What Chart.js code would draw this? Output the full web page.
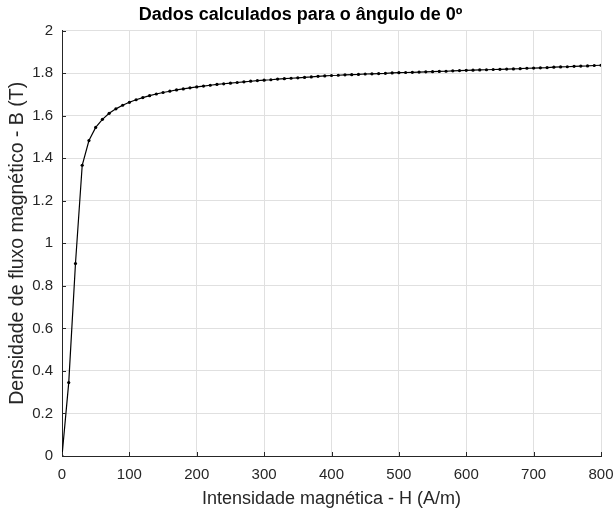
<!DOCTYPE html>
<html>
<head>
<meta charset="utf-8">
<script src="https://cdn.jsdelivr.net/npm/chart.js@4"></script>
<style>
  html, body { margin: 0; padding: 0; background: #ffffff; }
  #wrap { width: 613px; height: 510px; }
</style>
</head>
<body>
<div id="wrap"><canvas id="chart" width="613" height="510"></canvas></div>
<script>
// Campo magnético H (A/m)
const intensityH = [
  0, 10, 20, 30, 40, 50, 60, 70, 80, 90,
  100, 110, 120, 130, 140, 150, 160, 170, 180, 190,
  200, 210, 220, 230, 240, 250, 260, 270, 280, 290,
  300, 310, 320, 330, 340, 350, 360, 370, 380, 390,
  400, 410, 420, 430, 440, 450, 460, 470, 480, 490,
  500, 510, 520, 530, 540, 550, 560, 570, 580, 590,
  600, 610, 620, 630, 640, 650, 660, 670, 680, 690,
  700, 710, 720, 730, 740, 750, 760, 770, 780, 790,
  800
];

// Densidade de fluxo B (T)
const fluxB = [
  0, 0.345, 0.905, 1.367, 1.483, 1.545, 1.583, 1.611, 1.632, 1.649,
  1.663, 1.675, 1.685, 1.694, 1.702, 1.709, 1.715, 1.721, 1.726, 1.731,
  1.735, 1.739, 1.743, 1.747, 1.750, 1.753, 1.756, 1.759, 1.762, 1.765,
  1.767, 1.769, 1.772, 1.774, 1.776, 1.778, 1.780, 1.782, 1.785, 1.787,
  1.789, 1.790, 1.792, 1.793, 1.794, 1.796, 1.797, 1.798, 1.799, 1.801,
  1.802, 1.803, 1.804, 1.805, 1.806, 1.807, 1.808, 1.809, 1.811, 1.812,
  1.813, 1.814, 1.815, 1.816, 1.817, 1.818, 1.819, 1.820, 1.821, 1.823,
  1.824, 1.825, 1.826, 1.828, 1.829, 1.830, 1.832, 1.833, 1.834, 1.836,
  1.837
];

const xTicks = [0, 100, 200, 300, 400, 500, 600, 700, 800];
const yTicks = [0, 0.2, 0.4, 0.6, 0.8, 1, 1.2, 1.4, 1.6, 1.8, 2];

const FONT = '"Liberation Sans", Arial, Helvetica, sans-serif';
const TEXT = '#262626';
const GRID = '#e0e0e0';

const points = intensityH.map((h, i) => ({ x: h, y: fluxB[i] }));

// small inward tick marks, MATLAB style
const inwardTicks = {
  id: 'inwardTicks',
  afterDraw(chart) {
    const { ctx, chartArea, scales } = chart;
    ctx.save();
    ctx.strokeStyle = TEXT;
    ctx.lineWidth = 1;
    ctx.beginPath();
    xTicks.forEach(v => {
      const px = Math.round(scales.x.getPixelForValue(v)) + 0.5;
      ctx.moveTo(px, chartArea.bottom);
      ctx.lineTo(px, chartArea.bottom - 4);
    });
    yTicks.forEach(v => {
      const py = Math.round(scales.y.getPixelForValue(v)) + 0.5;
      ctx.moveTo(chartArea.left, py);
      ctx.lineTo(chartArea.left + 4, py);
    });
    ctx.stroke();
    ctx.restore();
  }
};

new Chart(document.getElementById('chart').getContext('2d'), {
  type: 'line',
  data: {
    datasets: [{
      data: points,
      borderColor: '#000000',
      backgroundColor: '#000000',
      borderWidth: 1.2,
      pointRadius: 1.6,
      pointBorderWidth: 0,
      tension: 0
    }]
  },
  plugins: [inwardTicks],
  options: {
    responsive: false,
    animation: false,
    layout: { padding: { left: 0, right: 12, top: 0, bottom: 0 } },
    plugins: {
      legend: { display: false },
      tooltip: { enabled: false },
      title: {
        display: true,
        text: 'Dados calculados para o ângulo de 0º',
        color: '#000000',
        font: { family: FONT, size: 18, weight: 'bold' },
        padding: { top: 4, bottom: 5 }
      }
    },
    scales: {
      x: {
        type: 'linear',
        min: 0,
        max: 800,
        afterBuildTicks: (scale) => { scale.ticks = xTicks.map(v => ({ value: v })); },
        afterFit: (scale) => {
          scale.height = 54;
          scale.paddingLeft = 0;
          scale.paddingRight = 0;
        },
        grid: { color: GRID, drawTicks: false },
        border: { color: TEXT, width: 1 },
        ticks: {
          color: TEXT,
          padding: 10,
          maxRotation: 0,
          font: { family: FONT, size: 15 }
        },
        title: {
          display: true,
          text: 'Intensidade magnética - H (A/m)',
          color: TEXT,
          font: { family: FONT, size: 18 },
          padding: { top: 1, bottom: 0 }
        }
      },
      y: {
        type: 'linear',
        min: 0,
        max: 2,
        afterBuildTicks: (scale) => { scale.ticks = yTicks.map(v => ({ value: v })); },
        afterFit: (scale) => {
          scale.width = 62;
          scale.paddingTop = 0;
          scale.paddingBottom = 0;
        },
        grid: { color: GRID, drawTicks: false },
        border: { color: TEXT, width: 1 },
        ticks: {
          color: TEXT,
          padding: 9,
          font: { family: FONT, size: 15 },
          callback: (v) => String(Math.round(v * 10) / 10)
        },
        title: {
          display: true,
          text: 'Densidade de fluxo magnético - B (T)',
          color: TEXT,
          font: { family: FONT, size: 19.5 },
          padding: { top: 6, bottom: 0 }
        }
      }
    }
  }
});
</script>
</body>
</html>
